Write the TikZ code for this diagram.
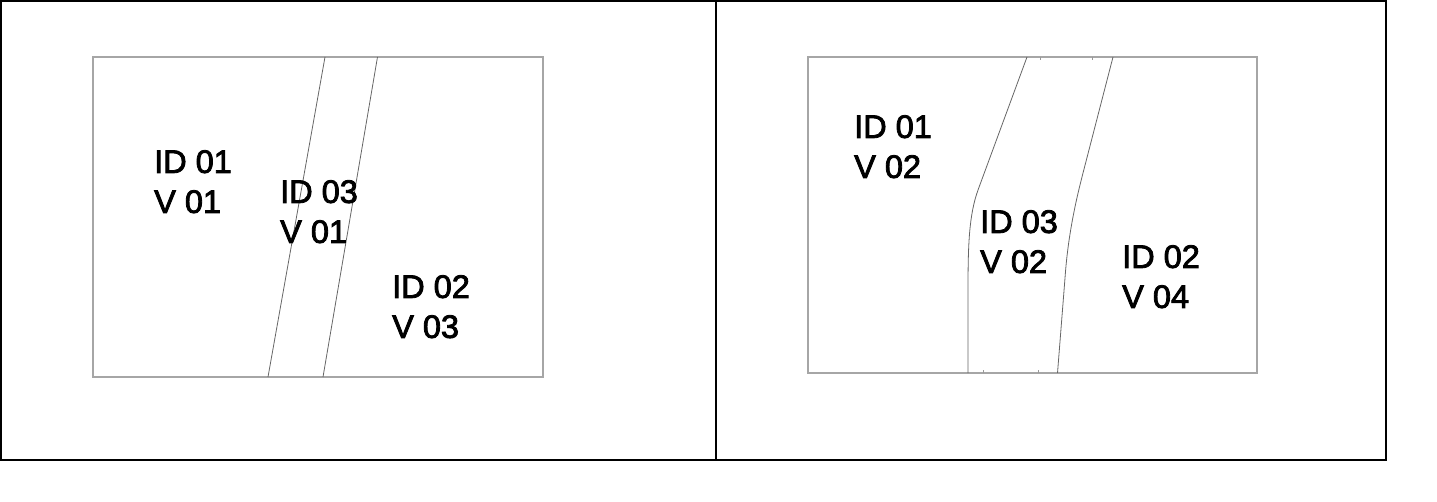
\documentclass[tikz,border=0pt]{standalone}
\usepackage{fontspec}
\setmainfont{Liberation Sans}
\newfontfamily\lblfont[FakeBold=2.5]{Liberation Sans}
\usepackage{tikz}
\usetikzlibrary{calc}

\begin{document}
\begin{tikzpicture}[x=1pt,y=-1pt,
  frame/.style={line width=2.4pt,black},
  parcel/.style={line width=1.3pt,gray!70},
  border/.style={line width=0.8pt,black!60},
  tick/.style={line width=0.8pt,gray!80},
  lbl/.style={anchor=north west,inner sep=0pt,align=left,
    font=\lblfont\fontsize{32.5}{40}\selectfont}]
\useasboundingbox (0,0) rectangle (1437,502);
% outer frame and divider
\draw[frame](1,1) rectangle (1386,460);
\draw[frame](716,1)--(716,460);
% left state
\draw[parcel](93,57) rectangle (543,377);
\draw[border](325,57)--(268,377);
\draw[border](377.5,57)--(323,377);
\node[lbl] (idA1) at (154,150){ID 01\\V 01};
\node[lbl] (idA3) at (280,180){ID 03\\V 01};
\node[lbl] (idA2) at (392,275){ID 02\\V 03};
% right state
\draw[parcel](808,57) rectangle (1257,373);
\draw[border](1027,57)--(978,190) .. controls (969,215) and (968,245) .. (968,290)--(968,373);
\draw[border](1113,57)--(1083,173) .. controls (1076,200) and (1068,235) .. (1065,278)--(1057.5,373);
\draw[tick](1040,57)--(1040,60);
\draw[tick](1092.5,57)--(1092.5,60);
\draw[tick](983,373)--(983,370);
\draw[tick](1038,373)--(1038,370);
\node[lbl] (idB1) at (854,115){ID 01\\V 02};
\node[lbl] (idB3) at (980,210){ID 03\\V 02};
\node[lbl] (idB2) at (1122,245){ID 02\\V 04};
\end{tikzpicture}
\end{document}
